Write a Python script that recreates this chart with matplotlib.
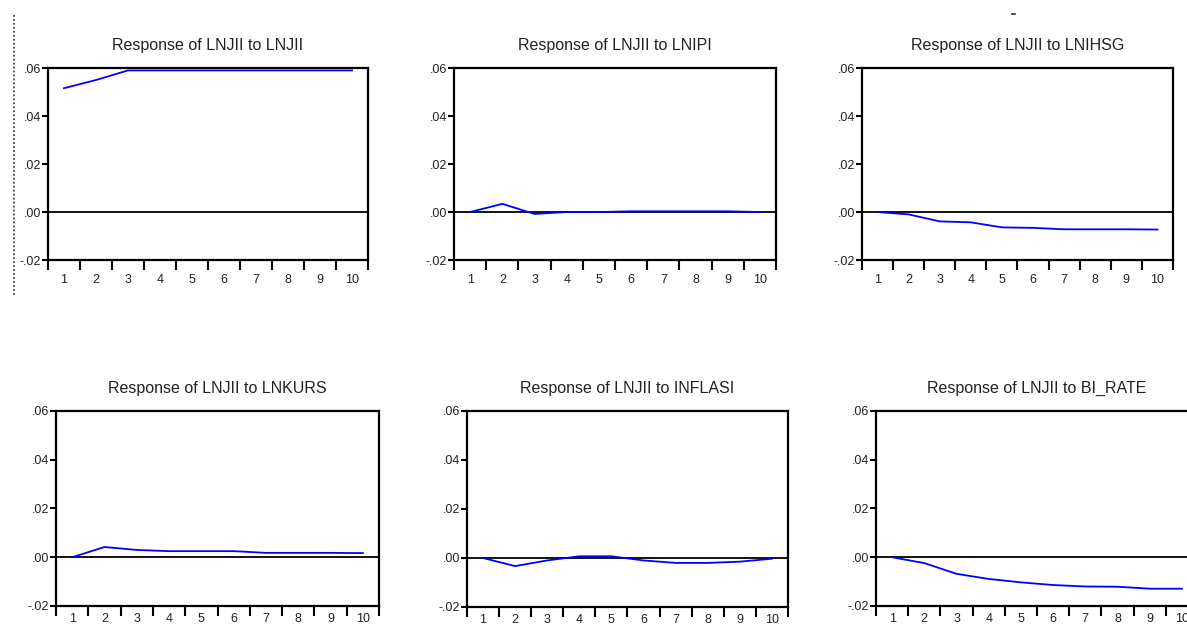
import matplotlib
matplotlib.use("Agg")
import matplotlib.pyplot as plt
from matplotlib.lines import Line2D
import numpy as np

periods = [1, 2, 3, 4, 5, 6, 7, 8, 9, 10]
titles = [
    "Response of LNJII to LNJII",
    "Response of LNJII to LNIPI",
    "Response of LNJII to LNIHSG",
    "Response of LNJII to LNKURS",
    "Response of LNJII to INFLASI",
    "Response of LNJII to BI_RATE",
]
resp_lnjii = [0.0516, 0.0550, 0.0590, 0.0590, 0.0590, 0.0590, 0.0590, 0.0590, 0.0590, 0.0590]
resp_lnipi = [0.0000, 0.0034, -0.0008, 0.0000, 0.0000, 0.0003, 0.0003, 0.0003, 0.0003, 0.0000]
resp_lnihsg = [0.0000, -0.0010, -0.0039, -0.0043, -0.0064, -0.0066, -0.0072, -0.0072, -0.0072, -0.0073]
resp_lnkurs = [0.0000, 0.0042, 0.0030, 0.0025, 0.0025, 0.0025, 0.0018, 0.0018, 0.0018, 0.0017]
resp_inflasi = [0.0000, -0.0033, -0.0010, 0.0007, 0.0007, -0.0010, -0.0020, -0.0020, -0.0015, -0.0003]
resp_birate = [0.0000, -0.0024, -0.0068, -0.0089, -0.0103, -0.0114, -0.0120, -0.0121, -0.0129, -0.0129]
series = [resp_lnjii, resp_lnipi, resp_lnihsg, resp_lnkurs, resp_inflasi, resp_birate]
ytick_vals = [-0.02, 0.00, 0.02, 0.04, 0.06]
ytick_labels = ["-.02", ".00", ".02", ".04", ".06"]

plt.rcParams['font.family'] = ['Liberation Sans', 'DejaVu Sans']

fig = plt.figure(figsize=(11.87, 6.27), dpi=100)

positions = [
    (0.0404, 0.5853, 0.2696, 0.3062),
    (0.3825, 0.5853, 0.2713, 0.3062),
    (0.7262, 0.5853, 0.2620, 0.3062),
    (0.0472, 0.0335, 0.2721, 0.3110),
    (0.3934, 0.0319, 0.2704, 0.3126),
    (0.7380, 0.0335, 0.2713, 0.3110),
]

txt_color = '#222222'
for i, (pos, title, vals) in enumerate(zip(positions, titles, series)):
    ax = fig.add_axes(pos)
    ax.plot(periods, vals, color='#0000FF', lw=1.3, zorder=3)
    ax.axhline(0, color='black', lw=1.3, zorder=2)
    ax.set_xlim(0.5, 10.5)
    ax.set_ylim(-0.02, 0.06)
    ax.set_yticks(ytick_vals)
    ax.set_yticklabels(ytick_labels, fontsize=9, color=txt_color)
    ax.set_xticks(np.arange(0.5, 11, 1.0))
    ax.set_xticklabels([])
    ax.set_xticks(periods, minor=True)
    ax.set_xticklabels([str(p) for p in periods], minor=True, fontsize=9, color=txt_color)
    ax.tick_params(axis='x', which='major', direction='out', length=7, width=1.5)
    ax.tick_params(axis='x', which='minor', length=0, pad=(10 if i < 3 else 5))
    ax.tick_params(axis='y', direction='out', length=4, width=1.5, pad=1)
    for s in ax.spines.values():
        s.set_linewidth(1.6)
        s.set_color('black')
    ax.set_title(title, fontsize=11.5, color=txt_color, pad=13)

fig.add_artist(Line2D([14/1187, 14/1187], [1 - 15/627, 1 - 297/627],
                      transform=fig.transFigure, color='#444444', lw=1.3, ls=(0, (1, 1.2))))
fig.add_artist(Line2D([1012/1187, 1015/1187], [1 - 14/627, 1 - 14/627],
                      transform=fig.transFigure, color='#333333', lw=1.2))

fig.savefig("out.png", dpi=100)
